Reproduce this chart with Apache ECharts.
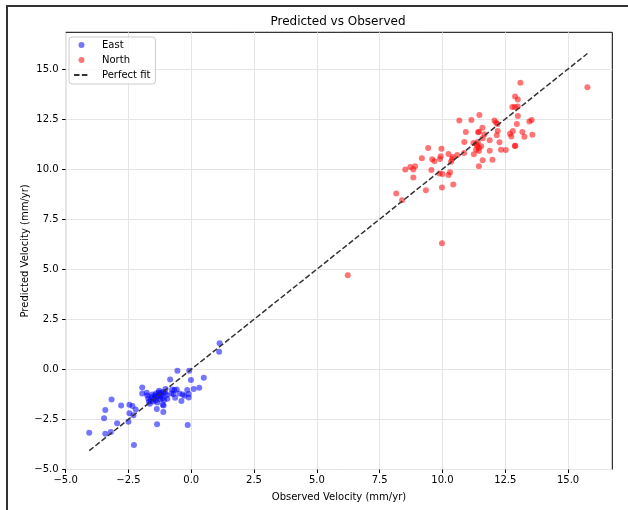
<!DOCTYPE html>
<html>
<head>
<meta charset="utf-8">
<title>Predicted vs Observed</title>
<script src="https://cdn.jsdelivr.net/npm/echarts@6/dist/echarts.min.js"></script>
<style>
	html, body { margin: 0; padding: 0; background: #fff; }
	#chart { width: 628px; height: 510px; }
</style>
</head>
<body>
<div id="chart"></div>
<script>
// observed / predicted velocity pairs (mm/yr)
var eastPoints = [
	[-4.06,-3.16],[-3.42,-3.21],[-3.20,-3.13],[-3.47,-2.44],[-3.42,-2.03],[-3.17,-1.50],
	[-2.95,-2.69],[-2.79,-1.80],[-2.50,-2.61],[-2.46,-1.77],[-2.34,-1.83],[-2.21,-2.00],
	[-2.46,-2.19],[-2.30,-2.29],[-2.28,-3.78],[-1.95,-0.90],[-1.95,-1.20],[-1.77,-1.17],
	[-1.71,-1.45],[-1.61,-1.53],[-1.75,-1.30],[-1.68,-1.62],[-1.65,-1.72],[-1.58,-1.38],
	[-1.55,-1.25],[-1.52,-1.60],[-1.48,-1.45],[-1.45,-1.30],[-1.42,-1.55],[-1.40,-1.20],
	[-1.38,-1.40],[-1.35,-1.65],[-1.32,-1.30],[-1.30,-1.15],[-1.28,-1.07],[-1.25,-1.50],
	[-1.22,-1.35],[-1.20,-1.17],[-1.18,-1.25],[-1.15,-1.45],[-1.11,-1.12],[-1.13,-1.77],
	[-1.10,-1.80],[-1.11,-2.13],[-1.37,-1.98],[-1.36,-2.74],[-1.08,-1.53],[-1.02,-0.98],
	[-1.04,-1.18],[-0.98,-1.28],[-0.95,-1.47],[-0.84,-0.50],[-0.76,-1.00],[-0.79,-1.20],
	[-0.71,-1.23],[-0.67,-1.03],[-0.58,-1.00],[-0.55,-0.07],[-0.64,-1.42],[-0.47,-1.20],
	[-0.39,-1.58],[-0.34,-1.25],[-0.27,-1.32],[-0.16,-1.03],[-0.10,-1.23],[-0.10,-1.40],
	[-0.14,-2.78],[-0.08,-0.07],[-0.01,-0.53],[0.10,-0.98],[0.32,-0.92],[0.50,-0.42],
	[1.11,0.88],[1.13,1.30]
];
var northPoints = [
	[15.77,14.09],[13.10,14.31],[12.89,13.63],[13.00,13.47],[12.78,13.10],[12.88,13.10],
	[13.00,13.12],[13.00,12.65],[12.96,12.25],[13.46,12.37],[13.55,12.45],[12.80,11.90],
	[12.69,11.77],[12.74,11.63],[13.18,11.85],[13.26,11.62],[13.58,11.72],[12.88,11.15],
	[12.90,11.17],[12.52,10.95],[12.33,10.97],[12.27,11.34],[12.16,11.69],[12.20,11.90],
	[12.19,12.25],[12.07,12.43],[12.13,12.33],[11.88,11.44],[11.99,10.47],[11.88,10.92],
	[11.60,10.44],[11.45,10.14],[11.59,12.07],[11.47,12.70],[11.15,12.45],[10.67,12.42],
	[10.93,11.85],[11.42,11.84],[11.45,11.86],[11.67,11.74],[11.60,11.54],[10.87,11.35],
	[11.23,11.30],[11.33,11.27],[11.41,11.35],[11.38,11.17],[11.45,11.07],[11.54,11.14],
	[11.45,10.90],[11.25,10.74],[11.34,10.97],[10.86,10.80],[10.59,10.70],[10.41,10.60],
	[10.34,10.37],[10.38,10.50],[10.24,10.75],[9.96,11.02],[9.93,10.64],[9.90,10.50],
	[10.30,9.84],[10.24,9.71],[10.43,9.23],[9.98,9.08],[10.00,9.76],[9.88,9.78],
	[9.68,10.39],[9.59,10.49],[9.43,11.05],[9.56,9.96],[9.34,8.94],[9.18,10.54],
	[8.91,10.14],[8.84,9.98],[8.72,10.10],[8.52,9.98],[8.84,9.58],[8.16,8.78],
	[8.39,8.44],[9.98,6.30],[6.23,4.70]
];
// 1:1 line from min to max of the data
var fitRange = [-4.06, 15.77];
var tickValues = [-5, -2.5, 0, 2.5, 5, 7.5, 10, 12.5, 15];
var seriesNames = ['East', 'North', 'Perfect fit'];

var font = 'DejaVu Sans';
function fmt(v) {
	return v.toFixed(1).replace('-', '\u2212');
}

var chart = echarts.init(document.getElementById('chart'));
var option = {
	animation: false,
	backgroundColor: '#fff',
	textStyle: { fontFamily: font },
	title: {
		text: 'Predicted vs Observed',
		left: 338,
		textAlign: 'center',
		top: 16,
		padding: 0,
		textStyle: { fontFamily: font, fontSize: 12, fontWeight: 'normal', color: '#000' }
	},
	legend: {
		orient: 'vertical',
		left: 69,
		top: 37,
		padding: [2, 5, 3, 4],
		itemGap: 3,
		itemWidth: 15,
		itemHeight: 6,
		backgroundColor: 'rgba(255,255,255,0.8)',
		borderColor: '#ccc',
		borderWidth: 1,
		borderRadius: 3,
		data: [
			seriesNames[0],
			seriesNames[1],
			// hide the marker drawn on the line icon
			{ name: seriesNames[2], itemStyle: { color: 'rgba(0,0,0,0)', borderColor: 'rgba(0,0,0,0)', opacity: 0 } }
		],
		textStyle: { fontFamily: font, fontSize: 10, color: '#000', lineHeight: 12, padding: [0, 0, 0, 8] }
	},
	graphic: [
		{
			type: 'rect',
			shape: { x: 7, y: 6, width: 700, height: 600 },
			style: { fill: null, stroke: '#333', lineWidth: 2 },
			silent: true
		}
	],
	grid: {
		left: 65.6,
		right: 15.7,
		top: 32.3,
		bottom: 40.5,
		show: true,
		borderColor: '#000',
		borderWidth: 1
	},
	xAxis: {
		type: 'value',
		min: -5,
		max: 16.76,
		interval: 2.5,
		name: 'Observed Velocity (mm/yr)',
		nameLocation: 'middle',
		nameGap: 23,
		nameMoveOverlap: false,
		nameTextStyle: { fontFamily: font, fontSize: 10, color: '#000' },
		axisLine: { show: false, onZero: false },
		axisTick: { show: true, inside: false, length: 3.5, customValues: tickValues, lineStyle: { color: '#000' } },
		axisLabel: { customValues: tickValues, margin: 6, fontFamily: font, fontSize: 10, color: '#000', formatter: fmt },
		splitLine: { show: true, lineStyle: { color: '#e5e5e5', width: 1 } }
	},
	yAxis: {
		type: 'value',
		min: -5,
		max: 16.83,
		interval: 2.5,
		name: 'Predicted Velocity (mm/yr)',
		nameLocation: 'middle',
		nameGap: 35,
		nameMoveOverlap: false,
		nameTextStyle: { fontFamily: font, fontSize: 10, color: '#000' },
		axisLine: { show: false, onZero: false },
		axisTick: { show: true, inside: false, length: 3.5, customValues: tickValues, lineStyle: { color: '#000' } },
		axisLabel: { customValues: tickValues, margin: 7, fontFamily: font, fontSize: 10, color: '#000', formatter: fmt },
		splitLine: { show: true, lineStyle: { color: '#e5e5e5', width: 1 } }
	},
	series: [
		{
			name: seriesNames[0],
			type: 'scatter',
			symbolSize: 6,
			itemStyle: { color: 'rgba(0,0,255,0.68)' },
			data: eastPoints
		},
		{
			name: seriesNames[1],
			type: 'scatter',
			symbolSize: 6,
			itemStyle: { color: 'rgba(255,0,0,0.68)' },
			data: northPoints
		},
		{
			name: seriesNames[2],
			type: 'line',
			symbol: 'none',
			lineStyle: { color: '#333', width: 1.5, type: [5.5, 2.4] },
			data: [[fitRange[0], fitRange[0]], [fitRange[1], fitRange[1]]]
		}
	]
};
chart.setOption(option);
</script>
</body>
</html>
